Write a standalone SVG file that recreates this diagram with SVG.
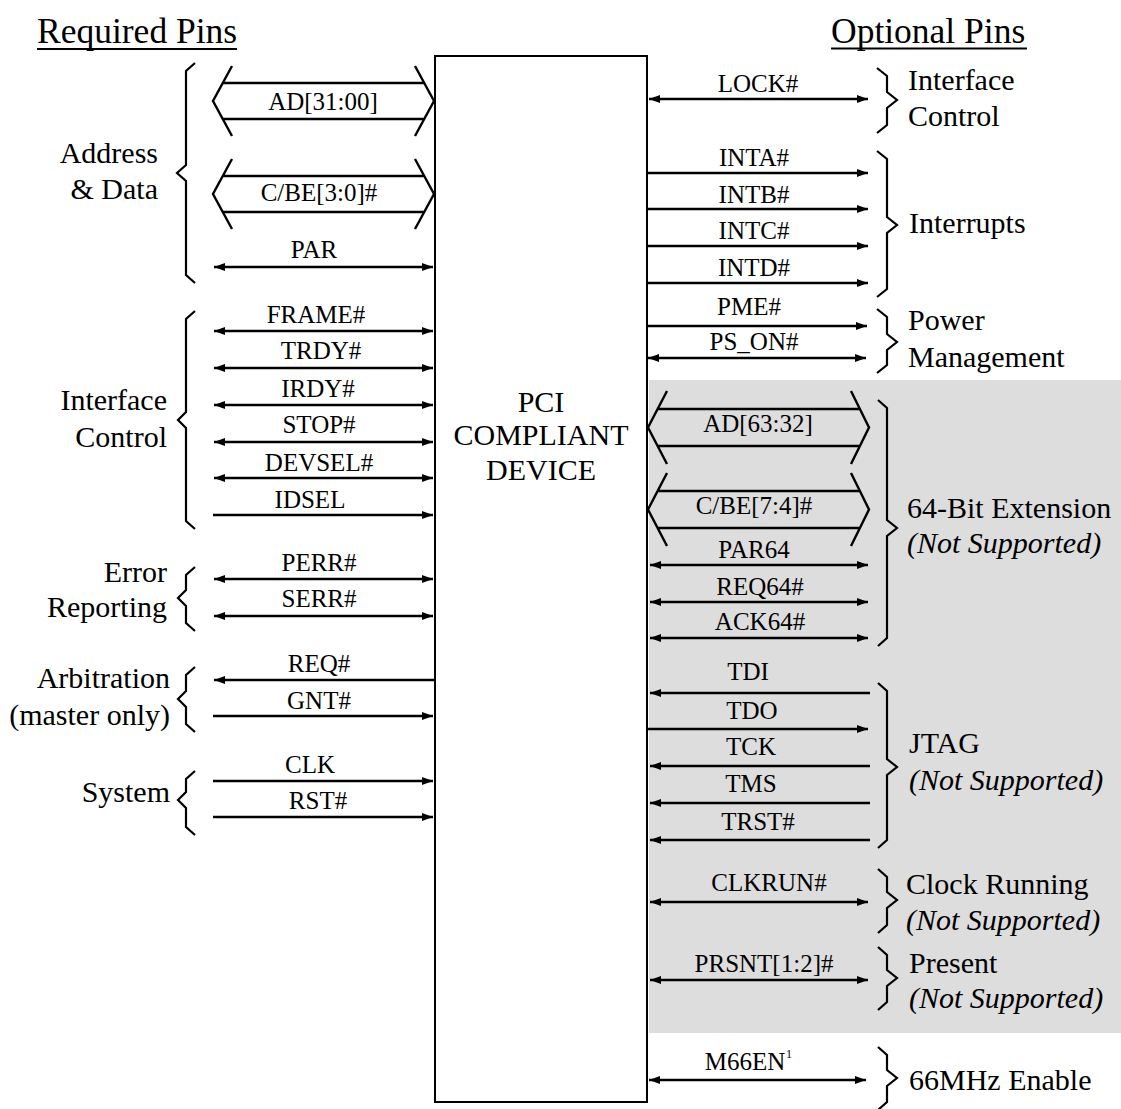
<svg xmlns="http://www.w3.org/2000/svg" width="1121" height="1109" viewBox="0 0 1121 1109">
<style>
text{font-family:"Liberation Serif","Times New Roman",serif;fill:#000}
.t{font-size:35.5px}
.g{font-size:30px}
.gi{font-size:30px;font-style:italic}
.s{font-size:25px;text-anchor:middle}
.dev{font-size:30px;text-anchor:middle}
.end{text-anchor:end}
.ln{stroke:#000;stroke-width:2.5;fill:none}
.a2{marker-start:url(#ah);marker-end:url(#ah)}
.a1{marker-end:url(#ah)}
.br{stroke:#000;stroke-width:2.2;fill:none;stroke-linejoin:miter}
.bus{stroke:#000;stroke-width:2.4;fill:none}
</style>
<defs>
<marker id="ah" viewBox="0 0 11 8" refX="11" refY="4" markerWidth="11" markerHeight="8" markerUnits="userSpaceOnUse" orient="auto-start-reverse"><path d="M0,0L11,4L0,8z" fill="#000"/></marker>
</defs>
<rect width="1121" height="1109" fill="#fff"/>
<rect id="unsupported-area" x="649" y="380" width="472" height="653" fill="#dddddd"/>

<g id="titles">
<text class="t" x="37" y="43">Required Pins</text>
<line x1="37" y1="49" x2="237" y2="49" stroke="#000" stroke-width="2"/>
<text class="t" x="831" y="43">Optional Pins</text>
<line x1="831" y1="48.5" x2="1027" y2="48.5" stroke="#000" stroke-width="2"/>
</g>

<g id="device">
<rect x="435" y="56" width="212" height="1046" fill="none" stroke="#000" stroke-width="2"/>
<text class="dev" x="541" y="412">PCI</text>
<text class="dev" x="541" y="445">COMPLIANT</text>
<text class="dev" x="541" y="480">DEVICE</text>
</g>

<g id="grp-address-data">
<path class="br" d="M195,63 L186,71 L186,165 L177,173 L186,181 L186,275 L195,283"/>
<text class="g end" x="158" y="163">Address</text>
<text class="g end" x="158" y="199">&amp; Data</text>
</g>
<g id="grp-interface-control-req">
<path class="br" d="M195,311 L186,319 L186,412 L178,420 L186,428 L186,521 L195,529"/>
<text class="g end" x="167" y="410">Interface</text>
<text class="g end" x="167" y="447">Control</text>
</g>
<g id="grp-error-reporting">
<path class="br" d="M195,567 L186,575 L186,590 L178,598 L186,606 L186,623 L195,631"/>
<text class="g end" x="167" y="582">Error</text>
<text class="g end" x="167" y="617">Reporting</text>
</g>
<g id="grp-arbitration">
<path class="br" d="M195,667 L186,675 L186,691 L178,699 L186,707 L186,724 L195,732"/>
<text class="g end" x="170" y="688">Arbitration</text>
<text class="g end" x="170" y="725">(master only)</text>
</g>
<g id="grp-system">
<path class="br" d="M195,771 L186,779 L186,792 L178,800 L186,808 L186,827 L195,835"/>
<text class="g end" x="170" y="802">System</text>
</g>

<g id="grp-interface-control-opt">
<path class="br" d="M877,68 L887,76 L887,92 L897,100 L887,108 L887,125 L877,133"/>
<text class="g" x="908" y="90">Interface</text>
<text class="g" x="908" y="126">Control</text>
</g>
<g id="grp-interrupts">
<path class="br" d="M877,151 L887,159 L887,217 L897,225 L887,233 L887,289 L877,297"/>
<text class="g" x="909" y="233">Interrupts</text>
</g>
<g id="grp-power">
<path class="br" d="M877,309 L887,317 L887,334 L897,342 L887,350 L887,365 L877,373"/>
<text class="g" x="908" y="330">Power</text>
<text class="g" x="908" y="367">Management</text>
</g>
<g id="grp-64bit">
<path class="br" d="M878,400 L887,408 L887,520 L897,528 L887,536 L887,638 L878,646"/>
<text class="g" x="907" y="518">64-Bit Extension</text>
<text class="gi" x="907" y="553">(Not Supported)</text>
</g>
<g id="grp-jtag">
<path class="br" d="M878,683 L887,691 L887,759 L897,767 L887,775 L887,840 L878,848"/>
<text class="g" x="909" y="753">JTAG</text>
<text class="gi" x="909" y="790">(Not Supported)</text>
</g>
<g id="grp-clkrun">
<path class="br" d="M878,869 L887,877 L887,892 L897,900 L887,908 L887,925 L878,933"/>
<text class="g" x="906" y="894">Clock Running</text>
<text class="gi" x="906" y="930">(Not Supported)</text>
</g>
<g id="grp-present">
<path class="br" d="M878,947 L887,955 L887,970 L897,978 L887,986 L887,1002 L878,1010"/>
<text class="g" x="909" y="973">Present</text>
<text class="gi" x="909" y="1008">(Not Supported)</text>
</g>
<g id="grp-66mhz">
<path class="br" d="M878,1047 L887,1055 L887,1070 L897,1078 L887,1086 L887,1102 L878,1110"/>
<text class="g" x="909" y="1090">66MHz Enable</text>
</g>

<g id="connectors">
<path class="bus" d="M232,66 L213,101 L232,136 M415,66 L434,101 L415,136 M223,83 L424,83 M223,119 L424,119"/>
<text class="s" x="323" y="110">AD[31:00]</text>
<path class="bus" d="M232,159 L213,194 L232,229 M415,159 L434,194 L415,229 M223,176 L424,176 M223,212 L424,212"/>
<text class="s" x="319" y="201">C/BE[3:0]#</text>

<line class="ln a2" x1="214" y1="267" x2="433" y2="267"/><text class="s" x="314" y="258">PAR</text>
<line class="ln a2" x1="214" y1="331" x2="433" y2="331"/><text class="s" x="316" y="323">FRAME#</text>
<line class="ln a2" x1="214" y1="368" x2="433" y2="368"/><text class="s" x="321" y="359">TRDY#</text>
<line class="ln a2" x1="214" y1="405" x2="433" y2="405"/><text class="s" x="318" y="397">IRDY#</text>
<line class="ln a2" x1="214" y1="442" x2="433" y2="442"/><text class="s" x="319" y="433">STOP#</text>
<line class="ln a2" x1="214" y1="478" x2="433" y2="478"/><text class="s" x="319" y="471">DEVSEL#</text>
<line class="ln a1" x1="213" y1="515" x2="433" y2="515"/><text class="s" x="310" y="508">IDSEL</text>
<line class="ln a2" x1="214" y1="579" x2="433" y2="579"/><text class="s" x="319" y="571">PERR#</text>
<line class="ln a2" x1="214" y1="616" x2="433" y2="616"/><text class="s" x="319" y="607">SERR#</text>
<line class="ln a1" x1="435" y1="680" x2="214" y2="680"/><text class="s" x="319" y="672">REQ#</text>
<line class="ln a1" x1="213" y1="716" x2="433" y2="716"/><text class="s" x="319" y="709">GNT#</text>
<line class="ln a1" x1="213" y1="781" x2="433" y2="781"/><text class="s" x="310" y="773">CLK</text>
<line class="ln a1" x1="213" y1="817" x2="433" y2="817"/><text class="s" x="318" y="809">RST#</text>

<line class="ln a2" x1="649" y1="99" x2="868" y2="99"/><text class="s" x="758" y="92">LOCK#</text>
<line class="ln a1" x1="647" y1="173" x2="868" y2="173"/><text class="s" x="754" y="166">INTA#</text>
<line class="ln a1" x1="647" y1="209" x2="868" y2="209"/><text class="s" x="754" y="203">INTB#</text>
<line class="ln a1" x1="647" y1="246" x2="868" y2="246"/><text class="s" x="754" y="239">INTC#</text>
<line class="ln a1" x1="647" y1="283" x2="868" y2="283"/><text class="s" x="754" y="276">INTD#</text>
<line class="ln a1" x1="647" y1="326" x2="867" y2="326"/><text class="s" x="749" y="315">PME#</text>
<line class="ln a2" x1="648" y1="358" x2="866" y2="358"/><text class="s" x="754" y="350">PS_ON#</text>

<path class="bus" d="M667,391 L648,427.5 L667,464 M851,391 L869,427.5 L851,464 M658,409 L860,409 M658,446 L860,446"/>
<text class="s" x="758" y="432">AD[63:32]</text>
<path class="bus" d="M667,473 L648,509.5 L667,546 M851,473 L869,509.5 L851,546 M658,491 L860,491 M658,528 L860,528"/>
<text class="s" x="754" y="514">C/BE[7:4]#</text>
<line class="ln a2" x1="650" y1="565" x2="868" y2="565"/><text class="s" x="754" y="558">PAR64</text>
<line class="ln a2" x1="650" y1="602" x2="868" y2="602"/><text class="s" x="760" y="595">REQ64#</text>
<line class="ln a2" x1="650" y1="638" x2="868" y2="638"/><text class="s" x="760" y="630">ACK64#</text>

<line class="ln a1" x1="870" y1="693" x2="650" y2="693"/><text class="s" x="748" y="680">TDI</text>
<line class="ln a1" x1="647" y1="729" x2="868" y2="729"/><text class="s" x="752" y="719">TDO</text>
<line class="ln a1" x1="870" y1="766" x2="650" y2="766"/><text class="s" x="751" y="755">TCK</text>
<line class="ln a1" x1="870" y1="803" x2="650" y2="803"/><text class="s" x="751" y="792">TMS</text>
<line class="ln a1" x1="870" y1="840" x2="650" y2="840"/><text class="s" x="758" y="830">TRST#</text>

<line class="ln a2" x1="650" y1="902" x2="868" y2="902"/><text class="s" x="769" y="891">CLKRUN#</text>
<line class="ln a2" x1="650" y1="980" x2="868" y2="980"/><text class="s" x="764" y="972">PRSNT[1:2]#</text>
<line class="ln a2" x1="649" y1="1080" x2="866" y2="1080"/>
<text class="s" x="745" y="1070">M66EN</text><text x="786" y="1058" style="font-size:12px">1</text>
</g>
</svg>
